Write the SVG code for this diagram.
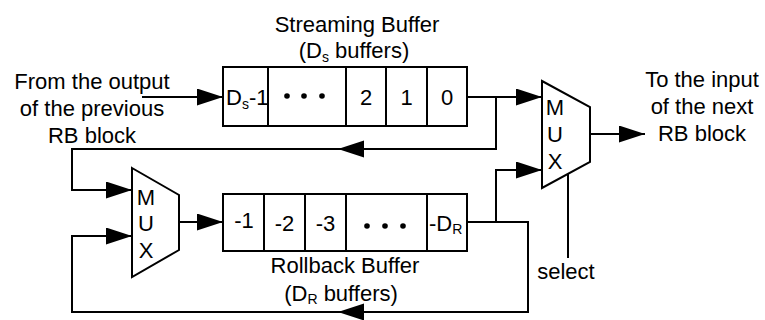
<svg xmlns="http://www.w3.org/2000/svg" width="765" height="320" viewBox="0 0 765 320">
<style>
text{font-family:"Liberation Sans",Arial,sans-serif;font-size:22px;fill:#000}
.c{text-anchor:middle}
.box{fill:#fff;stroke:#000;stroke-width:2}
.w{fill:none;stroke:#000;stroke-width:2}
.ah{fill:#000;stroke:none}
.sub{font-size:14px}
</style>
<defs>
<marker id="arr" markerUnits="userSpaceOnUse" markerWidth="27" markerHeight="17" refX="26" refY="8.5" orient="auto">
<path d="M0,0 L26,8.5 L0,17 z" fill="#000"/>
</marker>
</defs>
<rect width="765" height="320" fill="#fff"/>

<g id="streaming-buffer">
<rect class="box" x="223" y="67" width="244" height="59"/>
<path class="w" d="M268,67 V126 M346,67 V126 M386,67 V126 M427,67 V126"/>
<text x="226" y="105">D<tspan class="sub" dy="4">s</tspan><tspan dy="-4">-1</tspan></text>
<circle cx="287" cy="96" r="2.8"/><circle cx="304" cy="96" r="2.8"/><circle cx="322" cy="96" r="2.8"/>
<text class="c" x="366" y="105">2</text>
<text class="c" x="406.5" y="105">1</text>
<text class="c" x="447" y="105">0</text>
<text class="c" x="357" y="32">Streaming Buffer</text>
<text class="c" x="354" y="58">(D<tspan class="sub" dy="4">s</tspan><tspan dy="-4"> buffers)</tspan></text>
</g>

<g id="rollback-buffer">
<rect class="box" x="223" y="194" width="244" height="57"/>
<path class="w" d="M264,194 V251 M305,194 V251 M346,194 V251 M427,194 V251"/>
<text class="c" x="244" y="228">-1</text>
<text class="c" x="284.5" y="231">-2</text>
<text class="c" x="325.5" y="231">-3</text>
<circle cx="367" cy="226" r="2.8"/><circle cx="385" cy="226" r="2.8"/><circle cx="403" cy="226" r="2.8"/>
<text x="429" y="231">-D<tspan class="sub" dy="3">R</tspan></text>
<text class="c" x="345" y="273">Rollback Buffer</text>
<text class="c" x="341" y="301">(D<tspan class="sub" dy="3">R</tspan><tspan dy="-3"> buffers)</tspan></text>
</g>

<g id="mux-out">
<polygon class="box" points="542,81 590,107 590,162 542,188"/>
<text class="c" x="555" y="115">M</text>
<text class="c" x="555" y="142">U</text>
<text class="c" x="555" y="169">X</text>
</g>

<g id="mux-in">
<polygon class="box" points="132,168 179,195 179,250 132,277"/>
<text class="c" x="146" y="205">M</text>
<text class="c" x="146" y="231">U</text>
<text class="c" x="146" y="258">X</text>
</g>

<g id="labels">
<text class="c" x="92" y="89">From the output</text>
<text class="c" x="92" y="116">of the previous</text>
<text class="c" x="92" y="143">RB block</text>
<text class="c" x="702" y="87">To the input</text>
<text class="c" x="702" y="114">of the next</text>
<text class="c" x="702" y="141">RB block</text>
<text class="c" x="566" y="279">select</text>
</g>

<g id="connectors">
<path class="w" d="M142,97 H223" marker-end="url(#arr)"/>
<path class="w" d="M467,97 H542" marker-end="url(#arr)"/>
<path class="w" d="M496,97 V149 H72 V190 H132" marker-end="url(#arr)"/>
<polygon class="ah" points="338,149 364,140.5 364,157.5"/>
<path class="w" d="M179,222 H223" marker-end="url(#arr)"/>
<path class="w" d="M467,222 H528 V312 H72 V236 H132" marker-end="url(#arr)"/>
<polygon class="ah" points="338,312 364,303.5 364,320.5"/>
<path class="w" d="M496,222 V170 H542" marker-end="url(#arr)"/>
<path class="w" d="M590,134 H645" marker-end="url(#arr)"/>
<path class="w" d="M568,174 V258"/>
</g>
</svg>
